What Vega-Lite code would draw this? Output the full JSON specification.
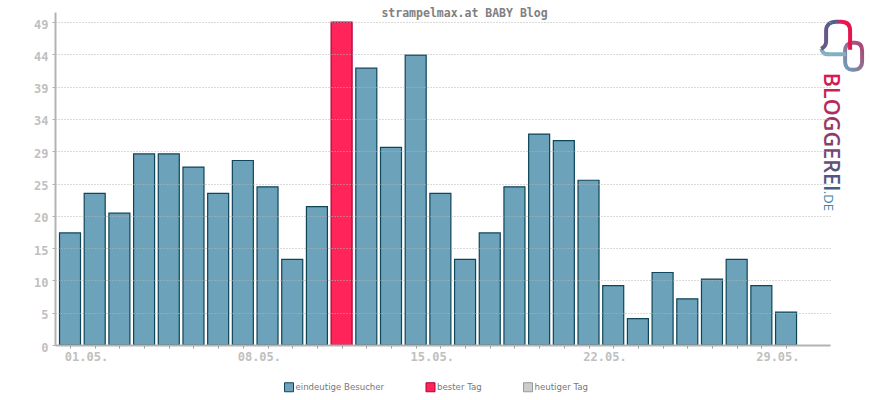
{
  "$schema": "https://vega.github.io/schema/vega-lite/v6.json",
  "title": {
    "text": "strampelmax.at BABY Blog",
    "font": "DejaVu Sans Mono",
    "fontSize": 11.5,
    "fontWeight": "bold",
    "color": "#808080",
    "anchor": "middle",
    "dx": 22,
    "offset": -7
  },
  "width": 775,
  "height": 333,
  "padding": {"left": 55, "top": 12, "right": 40, "bottom": 55},
  "autosize": {"type": "none"},
  "background": "white",
  "config": {"view": {"stroke": null}},
  "layer": [
    {
      "data": {
        "values": [
          {"day": 1, "visitors": 17, "kind": "eindeutige Besucher"},
          {"day": 2, "visitors": 23, "kind": "eindeutige Besucher"},
          {"day": 3, "visitors": 20, "kind": "eindeutige Besucher"},
          {"day": 4, "visitors": 29, "kind": "eindeutige Besucher"},
          {"day": 5, "visitors": 29, "kind": "eindeutige Besucher"},
          {"day": 6, "visitors": 27, "kind": "eindeutige Besucher"},
          {"day": 7, "visitors": 23, "kind": "eindeutige Besucher"},
          {"day": 8, "visitors": 28, "kind": "eindeutige Besucher"},
          {"day": 9, "visitors": 24, "kind": "eindeutige Besucher"},
          {"day": 10, "visitors": 13, "kind": "eindeutige Besucher"},
          {"day": 11, "visitors": 21, "kind": "eindeutige Besucher"},
          {"day": 12, "visitors": 49, "kind": "bester Tag"},
          {"day": 13, "visitors": 42, "kind": "eindeutige Besucher"},
          {"day": 14, "visitors": 30, "kind": "eindeutige Besucher"},
          {"day": 15, "visitors": 44, "kind": "eindeutige Besucher"},
          {"day": 16, "visitors": 23, "kind": "eindeutige Besucher"},
          {"day": 17, "visitors": 13, "kind": "eindeutige Besucher"},
          {"day": 18, "visitors": 17, "kind": "eindeutige Besucher"},
          {"day": 19, "visitors": 24, "kind": "eindeutige Besucher"},
          {"day": 20, "visitors": 32, "kind": "eindeutige Besucher"},
          {"day": 21, "visitors": 31, "kind": "eindeutige Besucher"},
          {"day": 22, "visitors": 25, "kind": "eindeutige Besucher"},
          {"day": 23, "visitors": 9, "kind": "eindeutige Besucher"},
          {"day": 24, "visitors": 4, "kind": "eindeutige Besucher"},
          {"day": 25, "visitors": 11, "kind": "eindeutige Besucher"},
          {"day": 26, "visitors": 7, "kind": "eindeutige Besucher"},
          {"day": 27, "visitors": 10, "kind": "eindeutige Besucher"},
          {"day": 28, "visitors": 13, "kind": "eindeutige Besucher"},
          {"day": 29, "visitors": 9, "kind": "eindeutige Besucher"},
          {"day": 30, "visitors": 5, "kind": "eindeutige Besucher"}
        ]
      },
      "mark": {"type": "bar", "size": 21, "strokeWidth": 1.2},
      "encoding": {
        "x": {
          "field": "day",
          "type": "quantitative",
          "title": null,
          "scale": {"domain": [0.392, 31.78], "nice": false, "zero": false, "padding": 0},
          "axis": {
            "values": [1, 2, 3, 4, 5, 6, 7, 8, 9, 10, 11, 12, 13, 14, 15, 16, 17, 18, 19, 20, 21, 22, 23, 24, 25, 26, 27, 28, 29, 30],
            "tickCount": 30,
            "labelExpr": "(datum.value - 1) % 7 == 0 ? (datum.value < 10 ? '0' : '') + datum.value + '.05.' : ''",
            "labelOverlap": false,
            "labelFlush": false,
            "labelOffset": 16,
            "labelFont": "DejaVu Sans Mono",
            "labelFontSize": 12,
            "labelFontWeight": "bold",
            "labelColor": "#c0c0c0",
            "labelPadding": 3,
            "domainColor": "#b3b3b3",
            "domainWidth": 2,
            "tickColor": "#999999",
            "tickSize": 3,
            "tickWidth": 1,
            "grid": false,
            "zindex": 1
          }
        },
        "y": {
          "field": "visitors",
          "type": "quantitative",
          "title": null,
          "scale": {"domain": [0, 50.53], "nice": false},
          "axis": {
            "values": [0, 4.9, 9.8, 14.7, 19.6, 24.5, 29.4, 34.3, 39.2, 44.1, 49],
            "tickCount": 11,
            "labelOverlap": false,
            "format": ".0f",
            "labelFont": "DejaVu Sans Mono",
            "labelFontSize": 12,
            "labelFontWeight": "bold",
            "labelColor": "#c0c0c0",
            "labelPadding": 4,
            "labelOffset": 2,
            "domainColor": "#b3b3b3",
            "domainWidth": 2,
            "tickColor": "#b3b3b3",
            "tickSize": 3,
            "grid": true,
            "gridColor": "#b4b4b4",
            "gridDash": [1, 2],
            "gridWidth": 1,
            "zindex": 1
          }
        },
        "fill": {
          "field": "kind",
          "type": "nominal",
          "title": null,
          "scale": {
            "domain": ["eindeutige Besucher", "bester Tag", "heutiger Tag"],
            "range": ["#6ca3bb", "#ff2459", "#cccccc"]
          },
          "legend": {
            "orient": "none",
            "legendX": 229,
            "legendY": 370,
            "direction": "horizontal",
            "columns": 3,
            "columnPadding": 38.5,
            "symbolType": "square",
            "symbolSize": 81,
            "symbolStrokeWidth": 1,
            "labelFont": "DejaVu Sans",
            "labelFontSize": 8.6,
            "labelColor": "#777777",
            "labelOffset": 1.5
          }
        },
        "stroke": {
          "field": "kind",
          "type": "nominal",
          "title": null,
          "scale": {
            "domain": ["eindeutige Besucher", "bester Tag", "heutiger Tag"],
            "range": ["#0f4559", "#b00039", "#999999"]
          }
        }
      }
    },
    {
      "data": {"values": [{}]},
      "mark": {
        "type": "text",
        "text": "BLOGGEREI",
        "font": "Open Sans",
        "fontSize": 21.6,
        "fontWeight": 600,
        "angle": 90,
        "align": "left",
        "baseline": "middle",
        "color": {
          "gradient": "linear",
          "x1": 0, "y1": 0, "x2": 1, "y2": 0,
          "stops": [
            {"offset": 0, "color": "#e0164f"},
            {"offset": 1, "color": "#3f5f85"}
          ]
        }
      },
      "encoding": {
        "x": {"datum": 31.78, "type": "quantitative"},
        "y": {"datum": 41.3, "type": "quantitative"}
      }
    },
    {
      "data": {"values": [{}]},
      "mark": {
        "type": "text",
        "text": ".DE",
        "font": "Open Sans",
        "fontSize": 13,
        "angle": 90,
        "align": "left",
        "baseline": "middle",
        "color": "#3d83a8"
      },
      "encoding": {
        "x": {"datum": 31.7, "type": "quantitative"},
        "y": {"datum": 23.4, "type": "quantitative"}
      }
    },
    {
      "data": {"values": [{}]},
      "mark": {
        "type": "point",
        "filled": false,
        "opacity": 1,
        "size": 1600,
        "strokeWidth": 4,
        "shape": "M0.5 -0.15 L0.65 -0.15 C0.9 -0.15 1 0 1 0.25 L1 0.8 C1 1.05 0.85 1.2 0.6 1.2 L0.5 1.2 C0.3 1.2 0.15 1.05 0.15 0.8 L0.15 0.25 C0.15 0 0.3 -0.15 0.5 -0.15 Z",
        "stroke": {
          "gradient": "linear",
          "x1": 0, "y1": 1, "x2": 1, "y2": 0,
          "stops": [
            {"offset": 0, "color": "#6ca3bb"},
            {"offset": 1, "color": "#b0406f"}
          ]
        }
      },
      "encoding": {
        "x": {"datum": 32.27, "type": "quantitative"},
        "y": {"datum": 45.4, "type": "quantitative"}
      }
    },
    {
      "data": {"values": [{}]},
      "mark": {
        "type": "point",
        "filled": false,
        "opacity": 1,
        "size": 1600,
        "strokeWidth": 4,
        "shape": "M-1.05 0.15 C-0.95 0.425 -0.85 0.425 -0.6 0.425 L0.2 0.425",
        "stroke": "#7fb0c4"
      },
      "encoding": {
        "x": {"datum": 32.27, "type": "quantitative"},
        "y": {"datum": 45.4, "type": "quantitative"}
      }
    },
    {
      "data": {"values": [{}]},
      "mark": {
        "type": "point",
        "filled": false,
        "opacity": 1,
        "size": 1600,
        "strokeWidth": 4,
        "shape": "M-1.05 0.15 C-0.85 0.05 -0.8 -0.05 -0.8 -0.2 L-0.8 -0.75 C-0.8 -1.05 -0.6 -1.2 -0.3 -1.2 L-0.05 -1.2 C0.25 -1.2 0.4 -1.05 0.4 -0.75 L0.4 0.2",
        "stroke": {
          "gradient": "linear",
          "x1": 0, "y1": 0, "x2": 1, "y2": 0,
          "stops": [
            {"offset": 0, "color": "#7a4f85"},
            {"offset": 0.45, "color": "#45688f"},
            {"offset": 0.75, "color": "#ff0f4d"},
            {"offset": 1, "color": "#e0164f"}
          ]
        }
      },
      "encoding": {
        "x": {"datum": 32.27, "type": "quantitative"},
        "y": {"datum": 45.4, "type": "quantitative"}
      }
    }
  ]
}
